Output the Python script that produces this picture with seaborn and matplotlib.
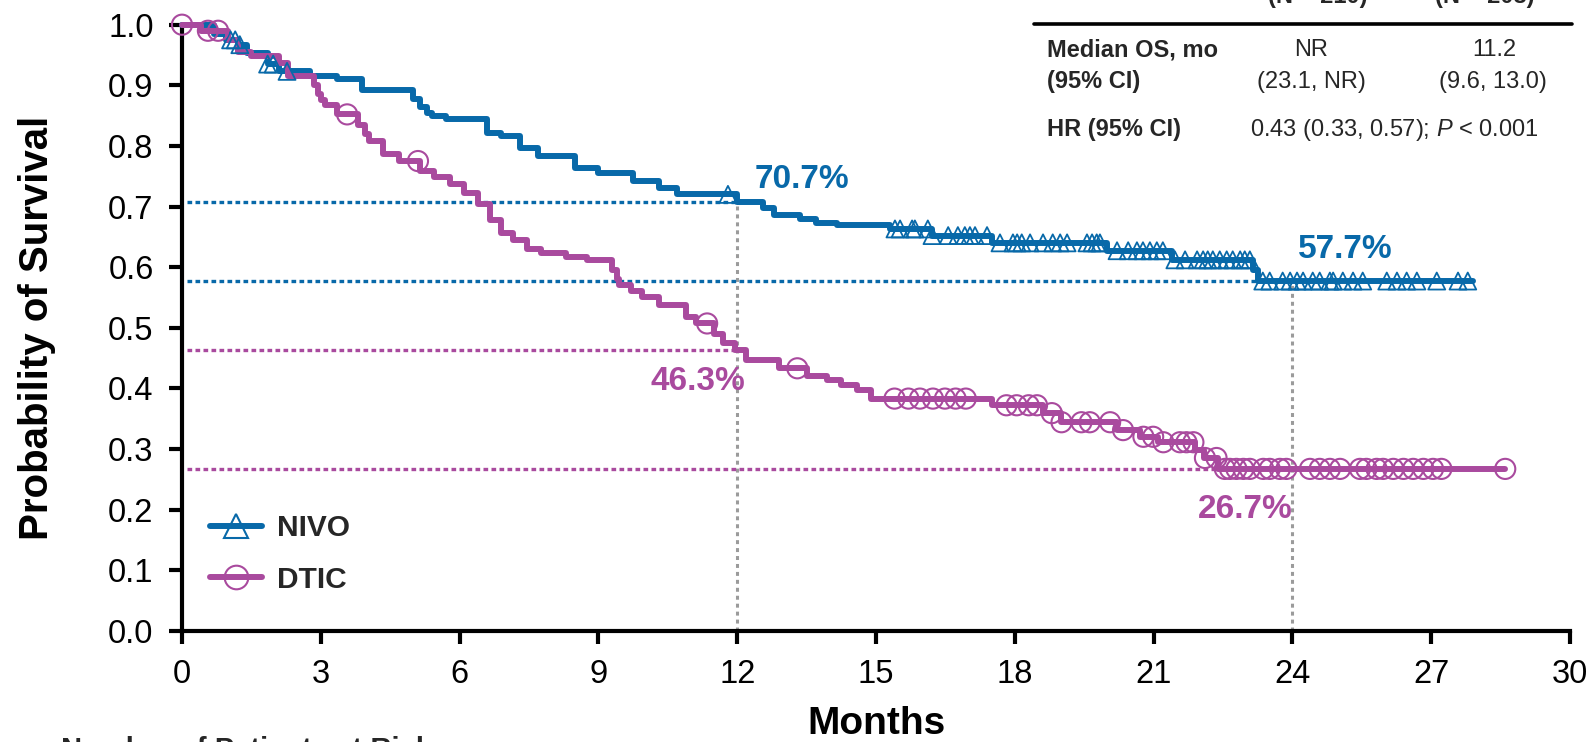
import numpy as np
import pandas as pd
import matplotlib
matplotlib.use("Agg")
import matplotlib.pyplot as plt
from matplotlib.lines import Line2D
import seaborn as sns

# ---- Kaplan-Meier estimates (months, survival probability after each drop) ----
nivo_time = [0, 0.7, 0.95, 1.2, 1.4, 1.85, 2.1, 2.77, 3.35, 3.9, 5.0, 5.15, 5.3, 5.4, 5.7,
             6.6, 6.9, 7.3, 7.7, 8.5, 9.0, 9.75, 10.3, 10.7, 12.0, 12.55, 12.8, 13.35, 13.7,
             14.15, 15.3, 16.2, 17.5, 20.0, 21.4, 23.15, 23.25]
nivo_surv = [1.0, 0.985, 0.975, 0.967, 0.953, 0.935, 0.923, 0.915, 0.91, 0.892, 0.878, 0.865,
             0.855, 0.85, 0.845, 0.822, 0.817, 0.797, 0.784, 0.764, 0.756, 0.742, 0.73, 0.72,
             0.707, 0.698, 0.686, 0.68, 0.673, 0.67, 0.663, 0.652, 0.64, 0.627, 0.612, 0.595,
             0.577]
nivo_last = 27.9
nivo_censor = [1.05, 1.15, 1.25, 1.85, 1.97, 2.27, 11.8, 15.41, 15.52, 15.78, 15.84, 16.12,
               16.21, 16.56, 16.77, 16.92, 17.03, 17.14, 17.40, 17.68, 17.96, 18.05, 18.15,
               18.33, 18.61, 18.82, 18.98, 19.13, 19.56, 19.67, 19.77, 19.84, 20.21, 20.45,
               20.64, 20.77, 20.92, 21.07, 21.2, 21.46, 21.68, 21.94, 22.07, 22.17, 22.28,
               22.43, 22.58, 22.71, 22.87, 22.97, 23.08, 23.36, 23.51, 23.79, 23.95, 24.1,
               24.23, 24.44, 24.59, 24.81, 24.88, 25.09, 25.31, 25.52, 26.04, 26.26, 26.47,
               26.69, 27.12, 27.58, 27.79]

dtic_time = [0, 0.4, 1.0, 1.2, 1.5, 2.1, 2.3, 2.85, 2.95, 3.0, 3.1, 3.35, 3.8, 3.95, 4.05,
             4.35, 4.7, 5.15, 5.45, 5.8, 6.1, 6.4, 6.65, 6.9, 7.15, 7.45, 7.75, 8.3, 8.75, 9.3,
             9.4, 9.45, 9.7, 9.95, 10.3, 10.9, 11.1, 11.5, 11.7, 11.95, 12.2, 12.9, 13.5,
             13.95, 14.25, 14.6, 14.9, 17.5, 18.6, 19.0, 20.2, 20.7, 21.1, 21.9, 22.1, 22.4]
dtic_surv = [1.0, 0.99, 0.975, 0.955, 0.948, 0.937, 0.915, 0.90, 0.885, 0.875, 0.868, 0.852,
             0.835, 0.82, 0.808, 0.787, 0.775, 0.759, 0.748, 0.737, 0.723, 0.704, 0.677, 0.657,
             0.644, 0.630, 0.624, 0.616, 0.611, 0.595, 0.58, 0.57, 0.561, 0.55, 0.537, 0.517,
             0.507, 0.49, 0.474, 0.463, 0.446, 0.433, 0.421, 0.413, 0.405, 0.397, 0.383, 0.372,
             0.359, 0.344, 0.331, 0.32, 0.311, 0.298, 0.285, 0.267]
dtic_last = 28.6
dtic_censor = [0.0, 0.56, 0.78, 3.57, 5.1, 11.35, 13.3, 15.4, 15.7, 15.95, 16.23, 16.49,
               16.72, 16.94, 17.82, 18.04, 18.3, 18.48, 18.8, 19.01, 19.44, 19.62, 20.06,
               20.34, 20.78, 20.99, 21.21, 21.57, 21.71, 21.86, 22.11, 22.36, 22.54, 22.65,
               22.79, 22.94, 23.08, 23.37, 23.51, 23.73, 23.87, 24.38, 24.59, 24.81, 25.03,
               25.46, 25.6, 25.82, 25.96, 26.18, 26.4, 26.61, 26.83, 27.04, 27.22, 28.6]

# landmark survival rates
landmark_months = [12, 24]
nivo_landmark = [0.707, 0.577]
dtic_landmark = [0.463, 0.267]
nivo_labels = ["70.7%", "57.7%"]
dtic_labels = ["46.3%", "26.7%"]

x_ticks = list(range(0, 31, 3))
y_ticks = [round(0.1 * i, 1) for i in range(11)]

arm_names = ["NIVO", "DTIC"]
arm_n = ["(N = 210)", "(N = 208)"]
table_rows = ["Median OS, mo", "(95% CI)", "HR (95% CI)"]
median_os = ["NR", "11.2"]
median_ci = ["(23.1, NR)", "(9.6, 13.0)"]
hr_text = r"0.43 (0.33, 0.57); $\mathit{P}$ < 0.001"

BLUE = "#0869A9"
MAGENTA = "#A94A9E"
GREY = "#9B9B9B"

sns.set_theme(style="ticks")
plt.rcParams["font.family"] = ["Liberation Sans", "DejaVu Sans"]
plt.rcParams["mathtext.fontset"] = "custom"
plt.rcParams["mathtext.it"] = "Liberation Sans:italic"
plt.rcParams["mathtext.rm"] = "Liberation Sans"

W, H = 1594, 742
fig = plt.figure(figsize=(W / 100, H / 100), dpi=100)
ax = fig.add_axes([182 / W, 1 - 630.7 / H, (1570 - 182) / W, (630.7 - 24.7) / H])


def km_frame(times, surv, last):
    t = list(times) + [last]
    s = list(surv) + [surv[-1]]
    return pd.DataFrame({"month": t, "survival": s})


def censor_frame(times, surv, cens):
    t = np.asarray(times)
    s = np.asarray(surv)
    idx = np.searchsorted(t, np.asarray(cens), side="right") - 1
    return pd.DataFrame({"month": cens, "survival": s[idx]})


# reference lines at the landmarks
for m, v in zip(landmark_months, nivo_landmark):
    ax.plot([m, m], [0, v], color=GREY, lw=2.2, dashes=(1.3, 1.3), zorder=1,
            solid_capstyle="butt")
for m, v in zip(landmark_months, nivo_landmark):
    ax.plot([0.1, m], [v, v], color=BLUE, lw=2.4, dashes=(1.4, 1.0), zorder=1)
for m, v in zip(landmark_months, dtic_landmark):
    ax.plot([0.1, m], [v, v], color=MAGENTA, lw=2.4, dashes=(1.4, 1.0), zorder=1)

# survival curves
for times, surv, last, color in [(nivo_time, nivo_surv, nivo_last, BLUE),
                                 (dtic_time, dtic_surv, dtic_last, MAGENTA)]:
    sns.lineplot(data=km_frame(times, surv, last), x="month", y="survival", ax=ax,
                 drawstyle="steps-post", estimator=None, sort=False, color=color,
                 lw=4.3, zorder=3, clip_on=False)

# censoring marks
sns.scatterplot(data=censor_frame(nivo_time, nivo_surv, nivo_censor), x="month", y="survival",
                ax=ax, marker="^", s=150, color=BLUE, facecolor="none", edgecolor=BLUE,
                linewidth=1.3, zorder=4, clip_on=False)
sns.scatterplot(data=censor_frame(dtic_time, dtic_surv, dtic_censor), x="month", y="survival",
                ax=ax, marker="o", s=210, color=MAGENTA, facecolor="none", edgecolor=MAGENTA,
                linewidth=1.5, zorder=4, clip_on=False)

# landmark labels
lab_kw = dict(fontsize=24, fontweight="bold", va="baseline")
ax.text(12.38, 0.7305, nivo_labels[0], color=BLUE, ha="left", **lab_kw)
ax.text(24.12, 0.6147, nivo_labels[1], color=BLUE, ha="left", **lab_kw)
ax.text(12.17, 0.397, dtic_labels[0], color=MAGENTA, ha="right", **lab_kw)
ax.text(24.0, 0.1855, dtic_labels[1], color=MAGENTA, ha="right", **lab_kw)

# axes styling
ax.set_xlim(0, 30)
ax.set_ylim(0, 1)
ax.set_xticks(x_ticks)
ax.set_xticklabels([str(v) for v in x_ticks])
ax.set_yticks(y_ticks)
ax.set_yticklabels([f"{v:.1f}" for v in y_ticks])
sns.despine(ax=ax)
for side in ["left", "bottom"]:
    ax.spines[side].set_linewidth(3.0)
    ax.spines[side].set_color("black")
ax.tick_params(axis="both", which="major", length=9.5, width=3.0, color="black",
               labelsize=23.5, labelcolor="black", pad=11, direction="out")
ax.set_xlabel("Months", fontsize=28, fontweight="bold", color="black")
ax.set_ylabel("Probability of Survival", fontsize=29, fontweight="bold", color="black")
ax.xaxis.set_label_coords(0.5, -0.125)
ax.yaxis.set_label_coords(-0.091, 0.5)
ax.grid(False)

# legend
handles = [
    Line2D([], [], color=BLUE, lw=4.3, marker="^", markersize=17, markerfacecolor="none",
           markeredgecolor=BLUE, markeredgewidth=1.5),
    Line2D([], [], color=MAGENTA, lw=4.3, marker="o", markersize=17, markerfacecolor="none",
           markeredgecolor=MAGENTA, markeredgewidth=1.5),
]
leg = ax.legend(handles, arm_names, loc="upper left", bbox_to_anchor=(0.0202, 0.1926),
                frameon=False, borderpad=0, borderaxespad=0, handlelength=1.74,
                handletextpad=0.5, labelspacing=0.8,
                prop={"size": 21.5, "weight": "bold"})


def ftext(x_px, y_px, s, **kw):
    fig.text(x_px / W, 1 - y_px / H, s, **kw)


# summary table
TS = 17
ftext(1318, 3.5, arm_n[0], fontsize=TS, fontweight="bold", ha="center", va="baseline")
ftext(1485, 3.5, arm_n[1], fontsize=TS, fontweight="bold", ha="center", va="baseline")
fig.add_artist(Line2D([1034 / W, 1572 / W], [1 - 24 / H, 1 - 24 / H],
                      transform=fig.transFigure, color="black", lw=2.6))
ftext(1047, 56, table_rows[0], fontsize=TS, fontweight="bold", ha="left", va="baseline")
ftext(1047, 88, table_rows[1], fontsize=TS, fontweight="bold", ha="left", va="baseline")
ftext(1047, 136, table_rows[2], fontsize=TS, fontweight="bold", ha="left", va="baseline")
ftext(1311, 56, median_os[0], fontsize=TS, ha="center", va="baseline")
ftext(1311, 88, median_ci[0], fontsize=TS, ha="center", va="baseline")
ftext(1494, 56, median_os[1], fontsize=TS, ha="center", va="baseline")
ftext(1493, 88, median_ci[1], fontsize=TS, ha="center", va="baseline")
ftext(1394, 136, hr_text, fontsize=TS, ha="center", va="baseline")

# at-risk table heading
ftext(61, 757.6, "Number of Patients at Risk", fontsize=21, fontweight="bold",
      ha="left", va="baseline")

fig.savefig("out.png", dpi=100)
